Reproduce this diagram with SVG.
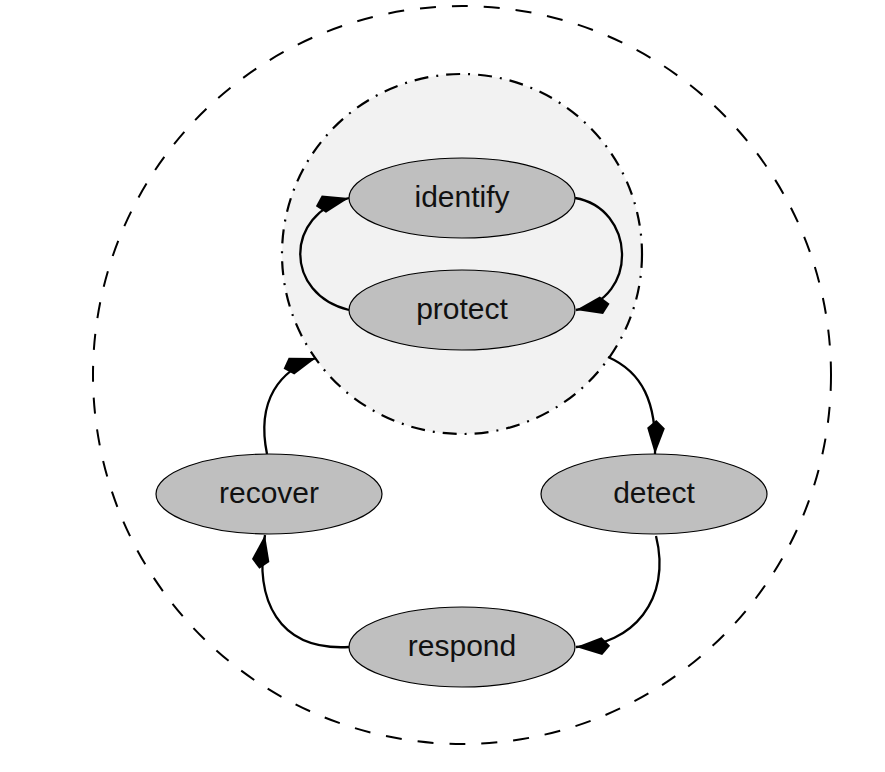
<svg xmlns="http://www.w3.org/2000/svg" width="885" height="772" viewBox="0 0 885 772">
<style>
.node ellipse{fill:#bfbfbf;stroke:#000;stroke-width:1.2}
.node text{font-family:"Liberation Sans",Arial,sans-serif;font-size:30px;fill:#111;text-anchor:middle}
.edge{fill:none;stroke:#000;stroke-width:2.3;marker-end:url(#kite)}
</style>
<defs>
<marker id="kite" markerUnits="userSpaceOnUse" markerWidth="40" markerHeight="30" viewBox="-32 -10 34 20" refX="0" refY="0" orient="auto" overflow="visible">
<path d="M0,0 L-22,-7.5 L-29,0 L-22,7.5 Z" fill="#000"/>
</marker>
</defs>
<rect width="885" height="772" fill="#fff"/>
<g id="outer-boundary">
<circle cx="462" cy="375" r="369" fill="none" stroke="#000" stroke-width="2" stroke-dasharray="16 16"/>
</g>
<g id="inner-boundary">
<circle cx="462" cy="254" r="180" fill="#f2f2f2" stroke="#000" stroke-width="2.2" stroke-dasharray="14 8 2 8"/>
</g>
<g id="connectors">
<path class="edge" d="M575,198 C635,208 640,298 576,310"/>
<path class="edge" d="M349,310 C284,294 284,214 349,198"/>
<path class="edge" d="M608,357 C642,372 657,402 655,454"/>
<path class="edge" d="M656,536 C672,600 632,645 576,647"/>
<path class="edge" d="M349,647 C278,651 254,600 265,535"/>
<path class="edge" d="M267,454 C256,400 280,370 316,358"/>
</g>
<g id="identify" class="node"><ellipse cx="462" cy="198" rx="113" ry="40"/><text x="462" y="207">identify</text></g>
<g id="protect" class="node"><ellipse cx="462" cy="310" rx="113" ry="40"/><text x="462" y="319">protect</text></g>
<g id="detect" class="node"><ellipse cx="654" cy="494" rx="113" ry="40"/><text x="654" y="503">detect</text></g>
<g id="respond" class="node"><ellipse cx="462" cy="647" rx="113" ry="40"/><text x="462" y="656">respond</text></g>
<g id="recover" class="node"><ellipse cx="269" cy="494" rx="113" ry="40"/><text x="269" y="503">recover</text></g>
</svg>
